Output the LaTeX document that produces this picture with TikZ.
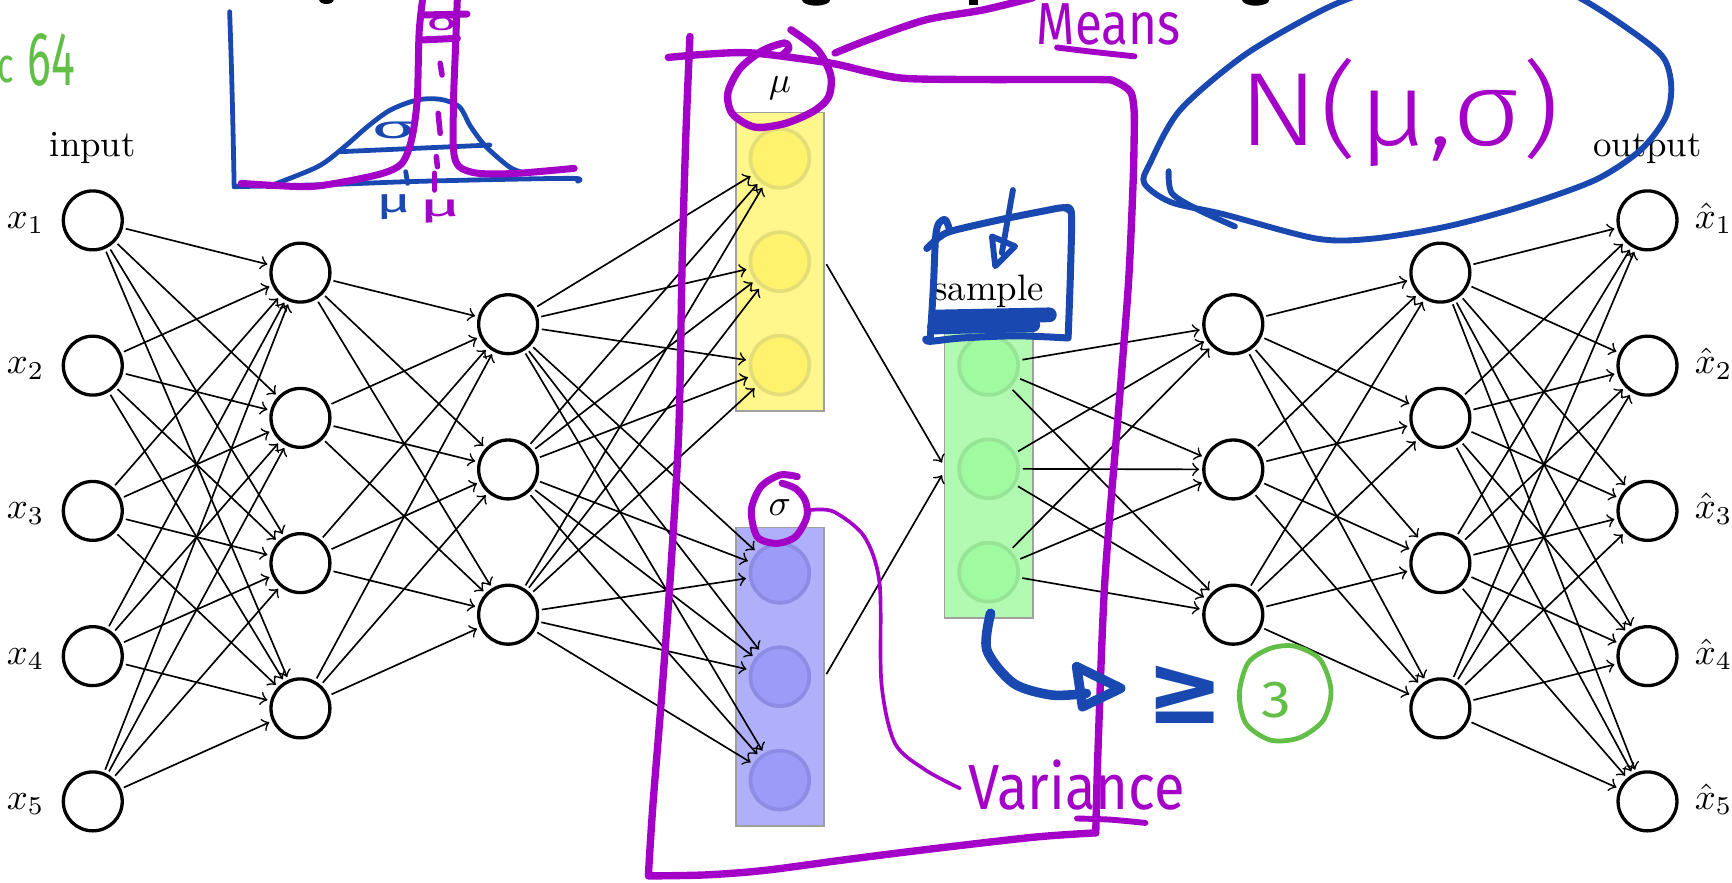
\documentclass[tikz,border=0pt]{standalone}
\usepackage{fontspec}
\usepackage{graphicx}
\newfontfamily\handfont{Fira Sans}
\IfFontExistsTF{Fira Sans Light}
  {\newfontfamily\handlight{Fira Sans Light}}
  {\newfontfamily\handlight{Fira Sans}}
\newfontfamily\symbolfont{DejaVu Sans}
% ink colours of the annotations
\definecolor{penpurple}{RGB}{163,0,200}
\definecolor{penblue}{RGB}{24,72,176}
\definecolor{pengreen}{RGB}{98,190,70}
% latent boxes and their units
\definecolor{ybox}{RGB}{255,247,140}
\definecolor{ycirc}{RGB}{255,242,108}
\definecolor{ycircd}{RGB}{228,222,120}
\definecolor{bbox}{RGB}{176,176,250}
\definecolor{bcirc}{RGB}{156,156,248}
\definecolor{bcircd}{RGB}{140,140,228}
\definecolor{gbox}{RGB}{178,250,178}
\definecolor{gcirc}{RGB}{160,250,160}
\definecolor{gcircd}{RGB}{150,228,150}
\definecolor{boxedge}{RGB}{160,160,160}
\begin{document}
\begin{tikzpicture}[x=0.3pt,y=-0.3pt,
  neuron/.style={circle,draw,line width=0.9pt,minimum size=16pt,inner sep=0pt},
  unitbox/.style={draw=boxedge,line width=0.5pt,inner sep=0pt,minimum width=24pt,minimum height=81pt},
  unit/.style={circle,line width=1pt,minimum size=16pt,inner sep=0pt},
  conn/.style={->,line width=0.45pt,shorten <=0.8pt,shorten >=0.8pt},
  pen/.style={line cap=round,line join=round},
  ink/.style={inner sep=0pt}]
\useasboundingbox (0,0) rectangle (1568,799);

% ---------- encoder and decoder layers ----------
\foreach \i [evaluate=\i as \yy using 199.5+131.5*(\i-1)] in {1,...,5} {
  \node[neuron] (in\i) at (84,\yy) {};
  \node[anchor=base east,inner sep=0pt] at ([xshift=-4.5pt,yshift=-2.15pt]in\i.west) {$x_{\i}$};
  \node[neuron] (out\i) at (1491.5,\yy) {};
  \node[anchor=base west,inner sep=0pt] at ([xshift=4.2pt,yshift=-2.15pt]out\i.east) {$\hat{x}_{\i}$};
}
\foreach \i [evaluate=\i as \yy using 246.8+131.5*(\i-1)] in {1,...,4} {
  \node[neuron] (ha\i) at (272,\yy) {};
  \node[neuron] (hd\i) at (1304,\yy) {};
}
\foreach \i [evaluate=\i as \yy using 293.5+131.5*(\i-1)] in {1,...,3} {
  \node[neuron] (hb\i) at (460,\yy) {};
  \node[neuron] (hc\i) at (1116.5,\yy) {};
}
\node (inlab) at (84,134) {input};
\node (outlab) at (1491.5,134.5) {output};

% ---------- latent boxes ----------
\node[unitbox,fill=ybox] (mubox) at (706,236.9) {};
\node[unitbox,fill=bbox] (sgbox) at (706,612.6) {};
\node[unitbox,fill=gbox] (smbox) at (895,424.4) {};
\foreach \i [evaluate=\i as \yy using 143.3+93.6*(\i-1)] in {1,2,3} {
  \node[unit,fill=ycirc,draw=ycircd] (mu\i) at (706,\yy) {};
}
\foreach \i [evaluate=\i as \yy using 519+93.6*(\i-1)] in {1,2,3} {
  \node[unit,fill=bcirc,draw=bcircd] (sg\i) at (706,\yy) {};
}
\foreach \i [evaluate=\i as \yy using 330.8+93.6*(\i-1)] in {1,2,3} {
  \node[unit,fill=gcirc,draw=gcircd] (sm\i) at (895,\yy) {};
}
\node (mulab) at (706,80) {$\mu$};
\node (sglab) at (706,459.5) {$\sigma$};
\node (smlab) at (895,263.3) {sample};

% ---------- connections ----------
\foreach \i in {1,...,5} \foreach \j in {1,...,4} \draw[conn] (in\i) -- (ha\j);
\foreach \i in {1,...,4} \foreach \j in {1,...,3} \draw[conn] (ha\i) -- (hb\j);
\foreach \i in {1,...,3} \foreach \j in {1,...,3} {
  \draw[conn] (hb\i) -- (mu\j);
  \draw[conn] (hb\i) -- (sg\j);
  \draw[conn] (sm\i) -- (hc\j);
}
\draw[conn] (mubox.east) -- ([yshift=1pt]smbox.west);
\draw[conn] (sgbox.east) -- ([yshift=-1pt]smbox.west);
\foreach \i in {1,...,3} \foreach \j in {1,...,4} \draw[conn] (hc\i) -- (hd\j);
\foreach \i in {1,...,4} \foreach \j in {1,...,5} \draw[conn] (hd\i) -- (out\j);

% ---------- heading fragments along the top edge ----------
\fill (295.5,0) ellipse [x radius=6.5,y radius=3.6];
\fill (738.8,0) ellipse [x radius=12.7,y radius=5.1];
\fill (877,-5) rectangle (885.5,4.5);
\fill (1136.8,0) ellipse [x radius=12.3,y radius=5.1];

% ---------- sketch of two distributions ----------
\begin{scope}[pen,penblue,line width=1.3pt]
  \draw plot[smooth] coordinates {(207.9,10.6) (209.5,60) (211,120) (212,169)};
  \draw plot[smooth] coordinates {(212,169) (300,167) (367.3,164.5) (450,162.5) (519.8,161.5) (523,164)};
  \draw plot[smooth] coordinates {(242.6,169) (287.6,150.9) (311.9,132.8) (332.6,114.7) (353.4,99.6) (377.7,90.5) (398.5,89.9) (415.8,96.6) (426.2,114.7) (440,132.8) (460.8,150.9) (471.2,155.4)};
  \draw (308.4,137.3) -- (443.5,131.3);
  \draw (367.3,155.4) -- (369,166);
\end{scope}
\node[ink,text=penblue] (bsig) at (356,118) {\resizebox{12pt}{4.5pt}{\handfont σ}};
\node[ink,text=penblue] (bmu) at (356.8,187.8) {\resizebox*{9.5pt}{6.8pt}{\handfont μ}};
\begin{scope}[pen,penpurple,line width=1.9pt]
  \draw plot[smooth] coordinates {(218.3,166) (277.2,169) (311.9,164.5) (346.5,156.9) (363.8,147.9) (372.5,126.8) (377.7,90.5) (379.4,30.2) (382.9,-3)};
  \draw plot[smooth] coordinates {(414.1,-3) (412.3,45.3) (410.6,90.5) (410.6,135.8) (415.8,150.9) (433.1,156.9) (467.8,156.9) (519.8,152.4)};
  \draw (381.2,13.6) -- (422.7,12.7);
  \draw (381.2,36.2) -- (414.1,34.7);
  \draw[line width=1.5pt] (398.5,57.3) -- (400.2,67.9);
  \draw[line width=1.5pt] (396.7,102.6) -- (398.5,120.7);
  \draw[line width=1.5pt] (395,141.8) -- (396,150.9);
  \draw[line width=1.5pt] (393.3,156.9) -- (393.3,172);
\end{scope}
\node[ink,text=penpurple] (psig) at (400,22) {\resizebox{8.4pt}{3.6pt}{\handfont σ}};
\node[ink,text=penpurple] (pmu) at (398.5,191.5) {\resizebox*{11.4pt}{6.3pt}{\handfont μ}};

% ---------- green notes ----------
\node[ink,text=pengreen] (gc) at (5,63) {\resizebox{4.5pt}{7.2pt}{\handfont c}};
\node[ink,text=pengreen] (g64) at (46.5,54.5) {\resizebox{12.9pt}{14.1pt}{\handfont 64}};
\draw[pen,pengreen,line width=1.3pt] plot[smooth cycle] coordinates {(1205,625) (1198,652) (1176,668) (1150,670) (1128,655) (1122,628) (1130,600) (1150,587) (1172,585) (1195,597)};
\node[ink,text=pengreen] (g3) at (1155.5,634) {\resizebox{8.1pt}{9.6pt}{\handfont 3}};

% ---------- purple frame round the latent part ----------
\begin{scope}[pen,penpurple,line width=2pt]
  \draw plot[smooth] coordinates {(624.6,33) (621,120) (617.5,240) (614.5,390) (607,520) (599,630) (591,730) (587,792)};
  \draw plot[smooth] coordinates {(587,793) (640,792) (692,788) (760,779) (831,770) (935,758) (992,754)};
  \draw plot[smooth] coordinates {(992,754) (994,680) (1000,530) (1011,392) (1016,330) (1022,250) (1026,160) (1027,105)};
  \draw plot[smooth] coordinates {(1027,105) (1024,84) (1010,74) (994,72) (890,72) (820,71) (786,65) (751,57) (682,48) (640,49) (605,52)};
  % loop round mu and its lead to the note
  \draw plot[smooth] coordinates {(716,27) (740,45) (752,68) (750,88) (736,101) (710,112) (683,115) (663,103) (659,84) (670,62) (690,46) (710,39) (714,44) (708,50)};
  \draw plot[smooth] coordinates {(756,48) (786,36) (838,18) (890,9) (935,-2)};
  % loop round sigma
  \draw[line width=1.9pt] plot[smooth] coordinates {(721.8,431.5) (706.2,430) (688.9,440.6) (680.2,461.7) (685.5,485.9) (702.8,491.9) (720.1,485.9) (730.5,467.8) (728.8,452.7) (720.1,442.1) (708,437.5)};
  \draw[line width=1pt] plot[smooth] coordinates {(733.9,461.7) (754.7,463.2) (782.5,485.8) (796.3,528.1) (798,618.6) (810.2,672.9) (837.9,697.1) (869.1,713.7)};
  \draw[line width=1.6pt] plot[smooth] coordinates {(957,43) (990,47) (1027,51)};
  \draw[line width=1.6pt] plot[smooth] coordinates {(975,741) (1005,742) (1037,745)};
\end{scope}
\node[ink,anchor=base west,text=penpurple] (means) at (938,40) {\resizebox{39pt}{11.1pt}{\handfont Means}};
\node[ink,anchor=base west,text=penpurple] (variance) at (876,733) {\resizebox{58.8pt}{13.5pt}{\handfont Variance}};

% ---------- blue notes ----------
\begin{scope}[pen,penblue,line width=1.6pt]
  \draw plot[smooth cycle] coordinates {(1192,216) (1108,194) (1060,183) (1036,166) (1041,148) (1068,100) (1125,51) (1186,15) (1226,-3) (1300,-25) (1380,-22) (1428,-3) (1471,24) (1505,51) (1513,78) (1508,106) (1485,136) (1444,163) (1377,187) (1310,205) (1243,216)};
  \draw plot[smooth] coordinates {(1058,155) (1061,175) (1085,190) (1118,205)};
\end{scope}
\node[ink,text=penpurple] (normal) at (1267,102) {\resizebox*{87.2pt}{29.4pt}{\handlight N(μ,σ)}};
\begin{scope}[pen,penblue,line width=1.9pt]
  \draw plot[smooth] coordinates {(839,225) (850,215) (862,209) (905,199) (945,191) (963,188) (970,192)};
  \draw plot[smooth] coordinates {(965,188) (970,194) (969,250) (967,305)};
  \draw plot[smooth] coordinates {(967,306) (920,304) (870,306) (842,309) (838,307)};
  \draw plot[smooth] coordinates {(842,309) (845,260) (847,215) (850,202) (856,199) (860,209)};
  \draw[line width=4pt] (848,287) -- (950,285);
  \draw[line width=4pt] (846,296) -- (935,294);
  \draw[line width=1.6pt] (917,172) -- (907,229);
  \draw[line width=1.6pt] (898,214) -- (919,223) -- (901,241) -- cycle;
  \draw[line width=2.6pt] plot[smooth] coordinates {(896.8,555.2) (893.4,588.4) (917.6,618.6) (952.2,629.2) (983.5,627.7)};
  \draw[line width=2.6pt] (974.7,603.5) -- (1014.6,623.1) -- (980,639.8) -- cycle;
\end{scope}
\node[ink,text=penblue] (geq) at (1073,629) {\resizebox{21pt}{15.6pt}{\symbolfont\bfseries ≥}};
\end{tikzpicture}
\end{document}
